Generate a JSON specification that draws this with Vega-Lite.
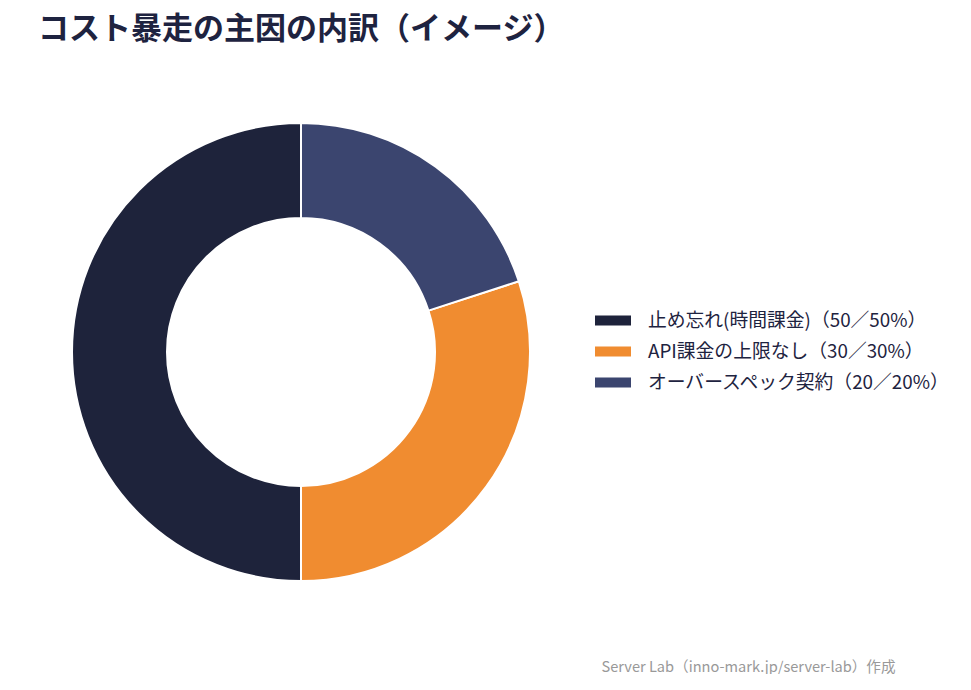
{
  "$schema": "https://vega.github.io/schema/vega-lite/v6.json",
  "width": 526,
  "height": 560,
  "padding": {"left": 38, "top": 14, "right": 0, "bottom": 0},
  "title": {
    "text": "コスト暴走の主因の内訳（イメージ）",
    "anchor": "start",
    "font": "Noto Sans CJK JP",
    "fontSize": 31,
    "fontWeight": "bold",
    "color": "#1e2340",
    "offset": 26
  },
  "data": {
    "values": [
      {"cause": "止め忘れ(時間課金)（50／50%）", "value": 50},
      {"cause": "API課金の上限なし（30／30%）", "value": 30},
      {"cause": "オーバースペック契約（20／20%）", "value": 20}
    ]
  },
  "layer": [
    {
      "mark": {"type": "arc", "outerRadius": 229, "innerRadius": 134, "stroke": "white", "strokeWidth": 2},
      "encoding": {
        "theta": {"field": "value", "type": "quantitative", "stack": true},
        "order": {"field": "value", "type": "quantitative", "sort": "ascending"},
        "color": {
          "field": "cause",
          "type": "nominal",
          "scale": {
            "domain": ["止め忘れ(時間課金)（50／50%）", "API課金の上限なし（30／30%）", "オーバースペック契約（20／20%）"],
            "range": ["#1e233b", "#f08c30", "#3b456f"]
          },
          "legend": {
            "title": null,
            "orient": "none",
            "legendX": 557,
            "legendY": 238,
            "padding": 0,
            "symbolType": "M-1,-0.28H1V0.28H-1Z",
            "symbolSize": 1296,
            "symbolStrokeWidth": 0,
            "clipHeight": 21,
            "rowPadding": 10,
            "labelOffset": 17,
            "labelFont": "Noto Sans CJK JP",
            "labelFontSize": 18.8,
            "labelColor": "#1e2340",
            "labelLimit": 400
          }
        }
      }
    },
    {
      "mark": {"type": "text"},
      "encoding": {
        "x": {
          "field": "value",
          "type": "quantitative",
          "axis": {
            "domain": false,
            "ticks": false,
            "labels": false,
            "grid": false,
            "title": "Server Lab（inno-mark.jp/server-lab）作成",
            "titleFont": "Noto Sans CJK JP",
            "titleFontSize": 14.6,
            "titleFontWeight": "normal",
            "titleColor": "#999999",
            "titleAnchor": "start",
            "titleAlign": "left",
            "titleX": 563,
            "titlePadding": 27
          }
        },
        "text": {"value": ""}
      }
    }
  ],
  "config": {"view": {"stroke": null}}
}
